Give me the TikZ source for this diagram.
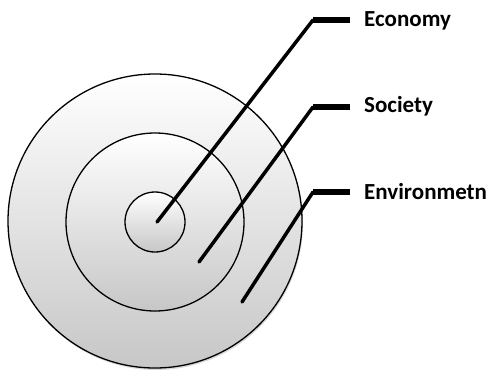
\documentclass[tikz,border=0pt]{standalone}
\usepackage{fontspec}
\setmainfont{Carlito}
\usetikzlibrary{shadows}
\begin{document}
\begin{tikzpicture}[
	x=1pt, y=-1pt,
	ring/.style={ circle, draw=black, line width=1.3pt, inner sep=0pt, top color=white, bottom color=black!22 },
	leader/.style={ line width=3.5pt, line cap=round, line join=round },
	tag/.style={ anchor=west, inner sep=0pt, font=\bfseries\fontsize{23}{23}\selectfont }
]
\useasboundingbox (0,0) rectangle (492,370);

% circles
\node at (155,221) (outer) [ring, minimum size=294pt, drop shadow={opacity=0.3, shadow xshift=1pt, shadow yshift=-2pt}] {};
\node at (155,222) (middle) [ring, minimum size=178pt] {};
\node at (155,222) (inner) [ring, minimum size=60pt] {};

% leader end points
\coordinate (e0) at (157,222);
\coordinate (e1) at (313,20);
\coordinate (s0) at (199,262);
\coordinate (s1) at (313,107);
\coordinate (v0) at (242,302);
\coordinate (v1) at (313,192);

% labels
\node at (364,21) (eco) [tag] {Economy};
\node at (364,106) (soc) [tag] {Society};
\node at (364,192) (env) [tag] {Environmetn};

% leaders
\foreach \a/\b/\c in {e0/e1/eco,s0/s1/soc,v0/v1/env} {
	\draw[leader] (\a) to (\b);
	\draw[line width=5.5pt] (\b) to ([xshift=-14pt]\c.west |- \b);
}

\end{tikzpicture}
\end{document}
